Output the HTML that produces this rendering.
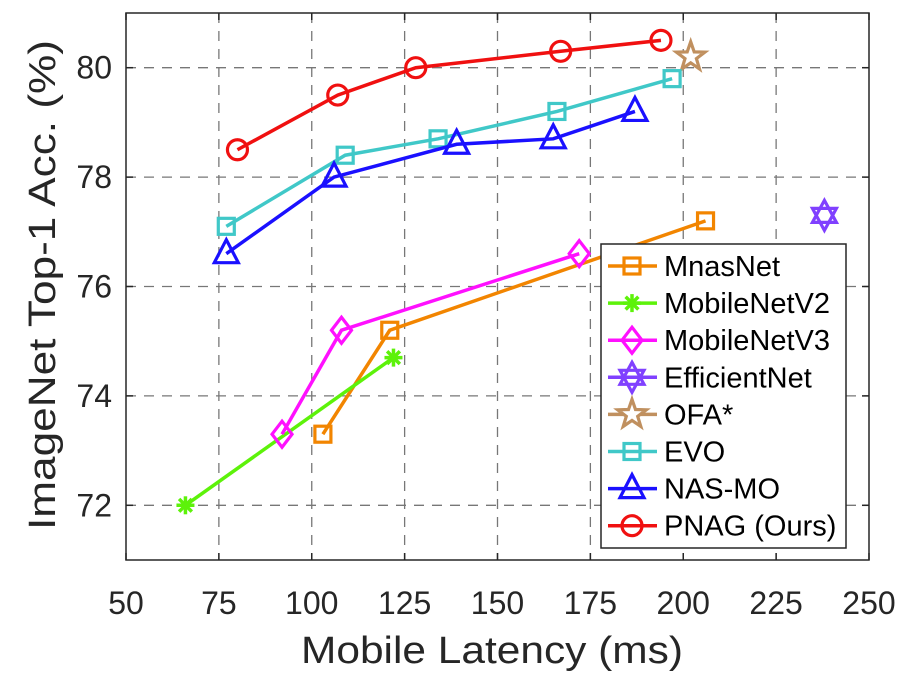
<!DOCTYPE html>
<html><head><meta charset="utf-8"><style>
html,body{margin:0;padding:0;background:#fff}
svg{display:block;font-family:"Liberation Sans",Arial,sans-serif}
</style></head><body>
<svg id="chart" width="897" height="682" viewBox="0 0 897 682" xmlns="http://www.w3.org/2000/svg"></svg>
<script>
const xTicks=[50,75,100,125,150,175,200,225,250];
const yTicks=[72,74,76,78,80];
const seriesNames=["MnasNet","MobileNetV2","MobileNetV3","EfficientNet","OFA*","EVO","NAS-MO","PNAG (Ours)"];
const mnasX=[103,121,206], mnasY=[73.3,75.2,77.2];
const mv2X=[66,122], mv2Y=[72.0,74.7];
const mv3X=[92,108,172], mv3Y=[73.3,75.2,76.6];
const effX=[238], effY=[77.3];
const ofaX=[202], ofaY=[80.2];
const evoX=[77,109,134,166,197], evoY=[77.1,78.4,78.7,79.2,79.8];
const nasX=[77,106,139,165,187], nasY=[76.6,78.0,78.6,78.7,79.2];
const pnagX=[80,107,128,167,194], pnagY=[78.5,79.5,80.0,80.3,80.5];

const L=126,R=869,T=13,B=560;
const sx=v=>L+(v-50)*(R-L)/200;
const sy=v=>B-(v-71)*(B-T)/10;
const svg=document.getElementById('chart');
const NS="http://www.w3.org/2000/svg";
function mk(tag,attrs,parent){const e=document.createElementNS(NS,tag);for(const k in attrs)e.setAttribute(k,attrs[k]);(parent||svg).appendChild(e);return e;}

const grid=mk('g',{});


xTicks.forEach(v=>{if(v>50&&v<250){mk('line',{x1:sx(v),x2:sx(v),y1:T,y2:B,stroke:'#777','stroke-width':1.3,'stroke-dasharray':'10,8'},grid);}});
yTicks.forEach(v=>{mk('line',{x1:L,x2:R,y1:sy(v),y2:sy(v),stroke:'#777','stroke-width':1.3,'stroke-dasharray':'10,8'},grid);});
const box=mk('rect',{x:L,y:T,width:R-L,height:B-T,fill:'none',stroke:'#262626','stroke-width':1.5});


xTicks.forEach(v=>{
  mk('line',{x1:sx(v),x2:sx(v),y1:B,y2:B-7,stroke:'#262626','stroke-width':1.5});
  mk('line',{x1:sx(v),x2:sx(v),y1:T,y2:T+7,stroke:'#262626','stroke-width':1.5});
  const t=mk('text',{x:sx(v),y:614,'font-size':32,'text-anchor':'middle',fill:'#262626'});
  t.textContent=v;
  
  
});
yTicks.forEach(v=>{
  mk('line',{x1:L,x2:L+7,y1:sy(v),y2:sy(v),stroke:'#262626','stroke-width':1.5});
  mk('line',{x1:R,x2:R-7,y1:sy(v),y2:sy(v),stroke:'#262626','stroke-width':1.5});
  const t=mk('text',{x:L-14,y:sy(v)+11,'font-size':32,'text-anchor':'end',fill:'#262626'});
  t.textContent=v;
  
  
});
const xl=mk('text',{x:492,y:663,'font-size':38,'text-anchor':'middle',fill:'#262626',textLength:382,lengthAdjust:'spacingAndGlyphs'});
xl.textContent='Mobile Latency (ms)';


const yl=mk('text',{x:0,y:0,'font-size':38,'text-anchor':'middle',fill:'#262626',transform:'translate(55,285) rotate(-90)',textLength:490,lengthAdjust:'spacingAndGlyphs'});
yl.textContent='ImageNet Top-1 Acc. (%)';



function marker(type,x,y,color,g){
  const s={fill:'none',stroke:color,'stroke-width':3.2};
  if(type==='square'){mk('rect',Object.assign({x:x-8,y:y-8,width:16,height:16},s),g);}
  else if(type==='circle'){mk('circle',Object.assign({cx:x,cy:y,r:10},s),g);}
  else if(type==='tri'){mk('polygon',Object.assign({points:`${x},${y-14} ${x-12},${y+9} ${x+12},${y+9}`},s),g);}
  else if(type==='diamond'){mk('polygon',Object.assign({points:`${x},${y-13} ${x+10},${y} ${x},${y+13} ${x-10},${y}`},s),g);}
  else if(type==='asterisk'){for(let a=0;a<180;a+=45){const r=a*Math.PI/180;mk('line',{x1:x-9*Math.cos(r),y1:y-9*Math.sin(r),x2:x+9*Math.cos(r),y2:y+9*Math.sin(r),stroke:color,'stroke-width':3.5},g);}}
  else if(type==='hexagram'){mk('polygon',Object.assign({points:`${x},${y-15} ${x+12},${y+7} ${x-12},${y+7}`},s),g);mk('polygon',Object.assign({points:`${x},${y+15} ${x+12},${y-7} ${x-12},${y-7}`},s),g);}
  else if(type==='star'){let p=[];for(let i=0;i<10;i++){const r=(i%2?6:15),a=-Math.PI/2+i*Math.PI/5;p.push((x+r*Math.cos(a)).toFixed(1)+','+(y+r*Math.sin(a)).toFixed(1));}mk('polygon',Object.assign({points:p.join(' ')},s,{fill:'#fff'}),g);}
}
const defs=[
 [mnasX,mnasY,'#f28500','square','series-mnasnet'],
 [mv2X,mv2Y,'#5df20a','asterisk','series-mobilenetv2'],
 [mv3X,mv3Y,'#ff10ff','diamond','series-mobilenetv3'],
 [effX,effY,'#8040ff','hexagram','series-efficientnet'],
 [ofaX,ofaY,'#c0905f','star','series-ofa'],
 [evoX,evoY,'#40c8c8','square','series-evo'],
 [nasX,nasY,'#1a10ff','tri','series-nas-mo'],
 [pnagX,pnagY,'#f01010','circle','series-pnag'],
];
defs.forEach(([xs,ys,c,m,n])=>{
  const g=mk('g',{});
  
  
  if(xs.length>1)mk('polyline',{points:xs.map((v,i)=>sx(v)+','+sy(ys[i])).join(' '),fill:'none',stroke:c,'stroke-width':3.5},g);
  xs.forEach((v,i)=>marker(m,sx(v),sy(ys[i]),c,g));
});
const lg=mk('g',{});


mk('rect',{x:601,y:244,width:245,height:304,fill:'#fff',stroke:'#262626','stroke-width':1.5},lg);
defs.forEach(([xs,ys,c,m,n],i)=>{
  const y=266+i*37.1;
  const e=mk('g',{},lg);
  
  
  mk('line',{x1:608,x2:657,y1:y,y2:y,stroke:c,'stroke-width':3.5},e);
  marker(m,632,y,c,e);
  const t=mk('text',{x:664,y:y+10,'font-size':29,fill:'#000'},e);
  t.textContent=seriesNames[i];
});
</script>
</body></html>
